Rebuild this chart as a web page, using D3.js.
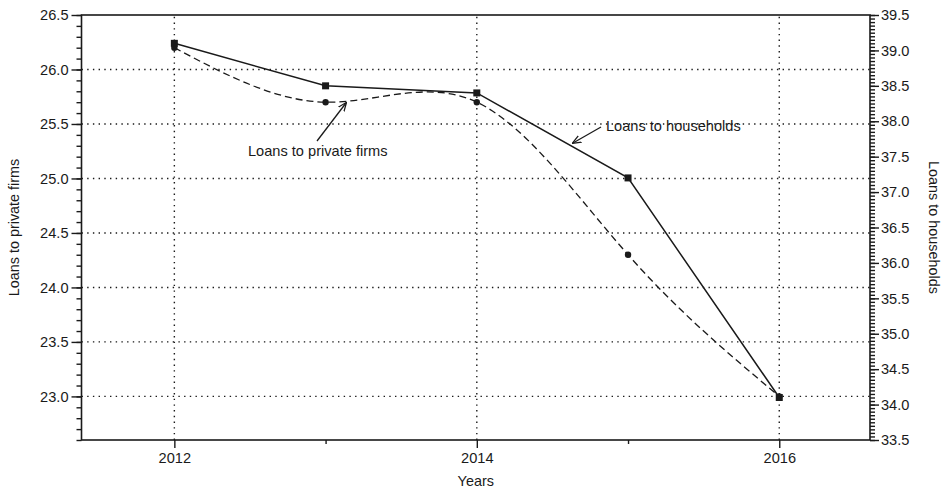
<!DOCTYPE html>
<html>
<head>
<meta charset="utf-8">
<script src="https://cdn.jsdelivr.net/npm/d3@7"></script>
<style>
  body { margin: 0; background: #fff; }
  text { font-family: "Liberation Sans", Arial, Helvetica, sans-serif; fill: #1a1a1a; }
</style>
</head>
<body>
<svg id="chart" width="947" height="489"></svg>
<script>
// Years on the horizontal axis
const years = [2012, 2013, 2014, 2015, 2016];
// Loans to private firms (left axis)
const firms = [26.2, 25.7, 25.7, 24.3, 23.0];
// Loans to households (right axis)
const households = [39.1, 38.5, 38.4, 37.2, 34.1];

const xMajorTicks = [2012, 2014, 2016];
const xMinorTicks = [2013, 2015];
const leftMajorTicks = [23.0, 23.5, 24.0, 24.5, 25.0, 25.5, 26.0, 26.5];
const rightMajorTicks = [33.5, 34.0, 34.5, 35.0, 35.5, 36.0, 36.5, 37.0, 37.5, 38.0, 38.5, 39.0, 39.5];

const W = 947, H = 489;
const m = { left: 81.5, right: 947 - 870, top: 15, bottom: 489 - 440 };
const ink = "#1a1a1a";
const tickFont = 14.6;

const svg = d3.select("#chart");

const x = d3.scaleLinear().domain([2011.386, 2016.6]).range([m.left, W - m.right]);
const yL = d3.scaleLinear().domain([22.6, 26.5]).range([H - m.bottom, m.top]);
const yR = d3.scaleLinear().domain([33.5, 39.5]).range([H - m.bottom, m.top]);

// Dotted grid: horizontals at left major ticks, verticals at major years
const grid = svg.append("g").attr("stroke", ink).attr("stroke-width", 1.4)
  .attr("stroke-dasharray", "1.4,4.3").attr("fill", "none");
grid.selectAll("line.h").data(leftMajorTicks.filter(v => v < 26.5)).join("line")
  .attr("class", "h")
  .attr("x1", x.range()[0]).attr("x2", x.range()[1])
  .attr("y1", d => yL(d)).attr("y2", d => yL(d));
grid.selectAll("line.v").data(xMajorTicks).join("line")
  .attr("class", "v")
  .attr("x1", d => x(d)).attr("x2", d => x(d))
  .attr("y1", yL.range()[0]).attr("y2", yL.range()[1]);

// Frame
svg.append("rect")
  .attr("x", x.range()[0]).attr("y", m.top)
  .attr("width", x.range()[1] - x.range()[0])
  .attr("height", yL.range()[0] - m.top)
  .attr("fill", "none").attr("stroke", ink).attr("stroke-width", 1.6);

function styleAxis(g) {
  g.select(".domain").remove();
  g.selectAll("line").attr("stroke", ink).attr("stroke-width", 1.4);
  g.selectAll("text").attr("font-size", tickFont).attr("fill", ink);
}

// Left axis: labelled majors and 0.1 minors
const leftMinor = d3.range(0, 40).map(i => +(22.6 + i * 0.1).toFixed(1));
svg.append("g").attr("transform", `translate(${x.range()[0]},0)`)
  .call(d3.axisLeft(yL).tickValues(leftMinor).tickSize(5).tickFormat(""))
  .call(styleAxis);
svg.append("g").attr("transform", `translate(${x.range()[0]},0)`)
  .call(d3.axisLeft(yL).tickValues(leftMajorTicks).tickSize(10).tickPadding(3).tickFormat(d3.format(".1f")))
  .call(styleAxis);

// Right axis: labelled majors and 0.05 minors
const rightMinor = d3.range(0, 121).map(i => 33.5 + i * 0.05);
svg.append("g").attr("transform", `translate(${x.range()[1]},0)`)
  .call(d3.axisRight(yR).tickValues(rightMinor).tickSize(5).tickFormat(""))
  .call(styleAxis);
svg.append("g").attr("transform", `translate(${x.range()[1]},0)`)
  .call(d3.axisRight(yR).tickValues(rightMajorTicks).tickSize(9).tickPadding(2).tickFormat(d3.format(".1f")))
  .call(styleAxis);

// Bottom axis
svg.append("g").attr("transform", `translate(0,${yL.range()[0]})`)
  .call(d3.axisBottom(x).tickValues(xMinorTicks).tickSize(4).tickFormat(""))
  .call(styleAxis);
svg.append("g").attr("transform", `translate(0,${yL.range()[0]})`)
  .call(d3.axisBottom(x).tickValues(xMajorTicks).tickSize(8).tickPadding(5).tickFormat(d3.format("d")))
  .call(styleAxis);

// Axis titles
svg.append("text").attr("x", (x.range()[0] + x.range()[1]) / 2).attr("y", 486)
  .attr("text-anchor", "middle").attr("font-size", 14.4).text("Years");
svg.append("text").attr("transform", `translate(19,${(m.top + H - m.bottom) / 2}) rotate(-90)`)
  .attr("text-anchor", "middle").attr("font-size", 14.4).text("Loans to private firms");
svg.append("text").attr("transform", `translate(929,${(m.top + H - m.bottom) / 2}) rotate(90)`)
  .attr("text-anchor", "middle").attr("font-size", 14.4).text("Loans to households");

// Series: households (solid, squares) and private firms (dashed spline, dots)
const hhData = years.map((yr, i) => ({ yr, v: households[i] }));
const fmData = years.map((yr, i) => ({ yr, v: firms[i] }));

svg.append("path").datum(fmData)
  .attr("fill", "none").attr("stroke", ink).attr("stroke-width", 1.3)
  .attr("stroke-dasharray", "7,4")
  .attr("d", d3.line().x(d => x(d.yr)).y(d => yL(d.v)).curve(d3.curveNatural));

svg.append("path").datum(hhData)
  .attr("fill", "none").attr("stroke", ink).attr("stroke-width", 1.5)
  .attr("d", d3.line().x(d => x(d.yr)).y(d => yR(d.v)));

svg.selectAll("circle.fm").data(fmData).join("circle")
  .attr("class", "fm").attr("cx", d => x(d.yr)).attr("cy", d => yL(d.v))
  .attr("r", 3.2).attr("fill", ink);

svg.selectAll("rect.hh").data(hhData).join("rect")
  .attr("class", "hh").attr("x", d => x(d.yr) - 3.5).attr("y", d => yR(d.v) - 3.5)
  .attr("width", 7).attr("height", 7).attr("fill", ink);

// Annotations with arrows
svg.append("defs").append("marker")
  .attr("id", "arrowhead").attr("viewBox", "0 0 10 10")
  .attr("refX", 9).attr("refY", 5).attr("markerWidth", 9).attr("markerHeight", 9)
  .attr("orient", "auto-start-reverse").attr("markerUnits", "userSpaceOnUse")
  .append("path").attr("d", "M0,1 L10,5 L0,9").attr("fill", "none")
  .attr("stroke", ink).attr("stroke-width", 1.4);

svg.append("line")
  .attr("x1", 317).attr("y1", 141).attr("x2", 346).attr("y2", 103)
  .attr("stroke", ink).attr("stroke-width", 1.3).attr("marker-end", "url(#arrowhead)");
svg.append("text").attr("x", 248).attr("y", 156).attr("font-size", 14.6)
  .text("Loans to private firms");

svg.append("line")
  .attr("x1", 601).attr("y1", 127).attr("x2", 573).attr("y2", 143)
  .attr("stroke", ink).attr("stroke-width", 1.3).attr("marker-end", "url(#arrowhead)");
svg.append("text").attr("x", 606).attr("y", 131).attr("font-size", 14.6)
  .text("Loans to households");
</script>
</body>
</html>
